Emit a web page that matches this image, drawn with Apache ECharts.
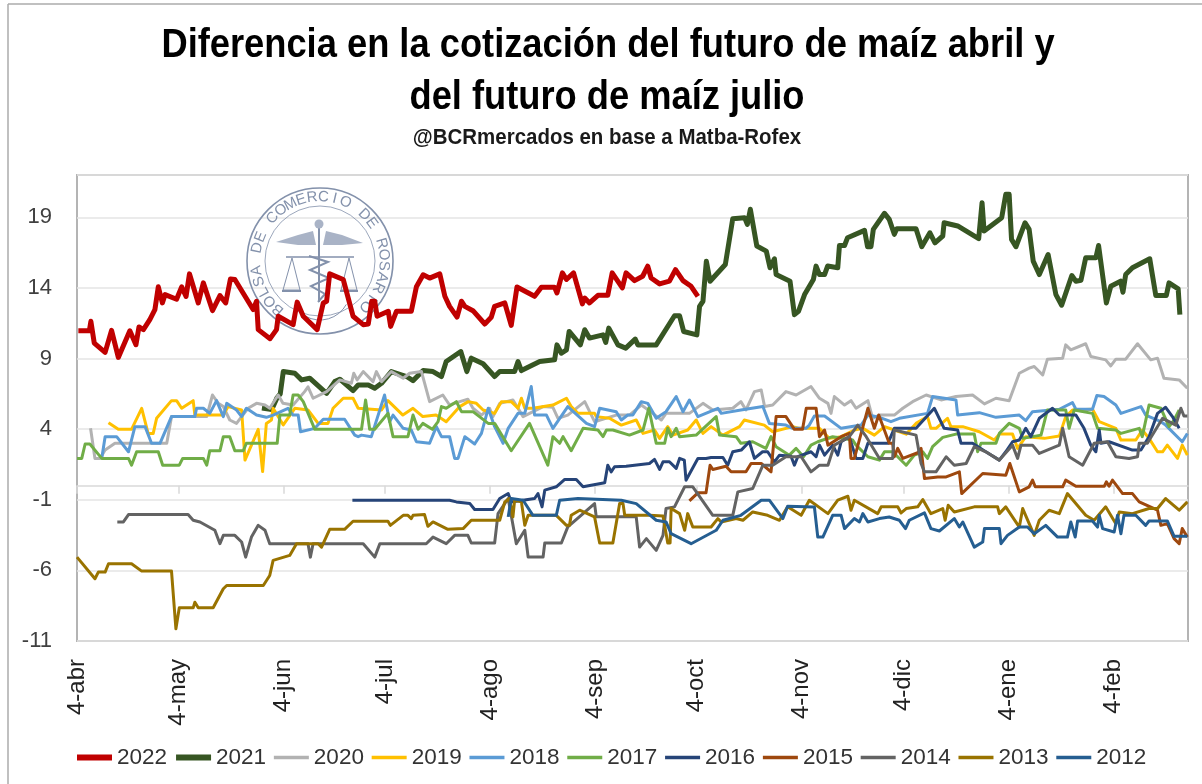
<!DOCTYPE html>
<html>
<head>
<meta charset="utf-8">
<title>Diferencia maíz abril - julio</title>
<script src="https://cdn.jsdelivr.net/npm/echarts@6/dist/echarts.min.js"></script>
<style>
  html, body { margin: 0; padding: 0; background: #fff; }
  #chart { width: 1202px; height: 784px; }
</style>
</head>
<body>
<div id="chart"></div>
<script>
// eje x: dias desde el 4 de abril
const tickDays = [0, 30, 61, 91, 122, 153, 183, 214, 244, 275, 306]
const tickLabels = ['4-abr', '4-may', '4-jun', '4-jul', '4-ago', '4-sep', '4-oct', '4-nov', '4-dic', '4-ene', '4-feb']
const years = ['2022', '2021', '2020', '2019', '2018', '2017', '2016', '2015', '2014', '2013', '2012']
const colors = ['#C00000', '#375623', '#B2B2B2', '#FFC000', '#5B9BD5', '#70AD47', '#264478', '#9E480E', '#636363', '#997300', '#255E91']

// valores: [dia, diferencia]
const y2022 = [[0.4,10.97],[3.65,10.97],[4.1,11.64],[5.1,10.1],[8.3,9.44],[10.2,11],[12.2,9.08],[15.6,10.97],[17.4,9.98],[18.3,11.24],[19.6,11.05],[21.5,11.76],[23,12.47],[24,14.08],[25.2,12.94],[26,13.53],[29.4,13.2],[30.9,14.08],[32.2,13.4],[33.2,15],[35.8,12.94],[37.3,14.36],[40,12.4],[42.2,13.46],[43.9,12.94],[45.3,14.64],[46.6,14.6],[52,12.47],[53,13.06],[53.5,11.05],[57,10.41],[58.9,11.05],[59.4,12],[63.8,11.4],[65,13],[66.8,12],[70.9,11.05],[72.7,12.94],[73.7,13.06],[74.6,15],[78.6,14.6],[81.5,12],[84.5,11.4],[86,11.45],[87,13.06],[87.9,13.06],[88.6,12],[91.9,12.35],[92.6,11.28],[94.3,12.35],[98.7,12.35],[100.2,14.08],[102.2,14.93],[104.1,14.7],[107.1,15],[108.6,13.41],[110,12.7],[112.2,11.94],[113.5,13.06],[114.5,12.7],[116.9,12.39],[120.4,11.45],[122.3,11.92],[123.3,12.7],[126.3,12.94],[128.2,11.35],[129.9,14.07],[135.1,13.41],[137.1,14.05],[141,14.05],[141.7,13.65],[143.3,15.07],[144.5,14.6],[146.6,15.07],[149.2,12.87],[149.9,13.29],[151.3,12.94],[153.8,13.48],[156.7,13.48],[158,15.07],[161,14],[162.1,15.07],[164.6,14.52],[167,14.83],[168.5,15.54],[169.5,14.71],[172,14.29],[174.9,14.48],[176.7,15.3],[178.9,14.52],[181.3,14.12],[183.3,13.41]]
const y2021 = [[54.6,5.5],[57.5,5.4],[59,6.2],[60,6.5],[60.9,8.08],[64.3,7.96],[66.3,7.49],[68.7,7.61],[73.7,6.54],[76.1,7.37],[77.6,7.54],[81.5,6.73],[83,7.13],[86,7.13],[87.9,6.9],[89.9,7.25],[92.8,8.08],[97.3,7.73],[99.2,7.44],[102.2,8.15],[105.1,8.08],[107.6,7.73],[109,8.79],[113.3,9.5],[115.1,8.08],[116.4,9.03],[119.9,8.63],[123.3,7.73],[124.8,8.08],[129.2,8.08],[130.2,8.79],[131.2,8.15],[136.6,8.79],[141,8.91],[141.7,9.97],[143,9.38],[144.5,9.62],[145.3,10.92],[148.6,9.97],[149.9,11.04],[151.3,10.45],[155.3,10.68],[156.1,10.14],[157,11.16],[159.7,9.97],[162,9.74],[164.8,10.38],[165.6,9.97],[171,9.97],[176.4,12.03],[177.9,12.03],[179.1,10.92],[183,10.68],[183.8,12.7],[184.8,13.06],[185.8,15.9],[186.9,14.48],[191.4,15.66],[193.6,18.91],[197.1,18.98],[197.9,18.5],[198.8,19.57],[200.7,16.97],[203.5,16.61],[204.6,15.43],[205.9,16.07],[206.4,14.95],[210.5,14.48],[211.8,12.11],[213,12.35],[214.8,13.53],[217.4,14.6],[218.2,15.55],[219.2,14.95],[220.7,14.95],[221.6,15.55],[224.6,15.43],[225.1,17.01],[226.6,17.01],[227.5,17.56],[232.5,18.08],[233.4,16.92],[234.4,16.92],[235.1,18.15],[238.4,19.29],[239.8,18.86],[241.3,17.8],[242,18.2],[247.7,18.2],[249.4,16.92],[251.8,17.91],[253.3,17.2],[255.6,17.68],[256,18.62],[260,18.39],[266.2,17.49],[267.2,20.04],[267.8,18.03],[273,18.98],[274.2,20.63],[275.2,20.63],[275.9,17.44],[277.2,16.92],[279.9,18.62],[281.1,18.15],[282.3,15.9],[284.1,14.95],[286.7,16.37],[289,13.53],[290.7,12.78],[293.7,14.88],[294.9,14.48],[296.4,14.55],[297.8,16.14],[300.8,16.14],[301.6,17.01],[303.9,12.94],[305.2,14.12],[308.1,14.48],[308.8,13.7],[309.6,14.95],[311.6,15.43],[316.7,16.07],[318.5,13.46],[321.6,13.46],[322.4,14.36],[325.1,13.94],[325.6,12.11]]
const y2020 = [[4,4.06],[5.3,1.93],[6.8,1.93],[8.3,2.52],[11.2,3],[26.5,3],[27.9,4.89],[38.3,4.89],[40,6.42],[41.7,5.83],[43.2,5.6],[45.1,4.65],[47.1,4.41],[48.6,4.89],[50.5,5.48],[53,5.83],[55.5,5.71],[56.9,5.48],[59.4,6.42],[60.8,5.83],[63.8,5.71],[67.2,6.66],[68.2,7],[69.7,6.19],[73.7,6.66],[77.6,7.49],[81,7.25],[81.7,7.96],[82.7,7.49],[84.5,8.08],[87.4,7.37],[88.4,8.08],[89.9,7.37],[92.8,8.08],[96.3,7.61],[98.2,7.96],[101.7,8.08],[104.1,5.95],[108,6.42],[110,5.71],[113,5.95],[115.4,6.12],[116.9,5.48],[119.4,5],[121.8,5.48],[122.8,4.89],[124.8,5.83],[128.7,6.07],[131.7,4.89],[137.6,5.6],[140.5,5.55],[142,4.77],[144.9,5],[149.9,5.95],[152.8,4.53],[159.2,5],[163.1,5],[166.6,5.71],[170,5.12],[172.5,4.65],[173.9,5.12],[180.8,5.12],[184.8,5.83],[187.7,5.36],[193.6,5.48],[196,5.95],[197.5,5.36],[200,6.66],[202,6.78],[203,5.6],[205.4,5.71],[209.3,6.66],[212.3,6.42],[216.7,7.02],[219.2,6.19],[221.7,5.83],[222.6,5.12],[223.6,6.31],[226.6,5.71],[228.5,6.02],[230,5.48],[233.5,6.02],[234.9,4.77],[236.9,5],[241.3,5],[243.8,5.48],[246.7,5.95],[250.7,6.42],[255.1,6.07],[259.5,6.31],[264.4,6.42],[267.9,5.79],[271.3,6.19],[275.2,6.02],[278.2,7.96],[281.1,8.32],[282.6,8.44],[285.1,7.84],[286.5,8.96],[291,9.03],[291.9,9.97],[293.4,9.62],[297.8,10.05],[299.3,9.15],[303.7,8.91],[305.2,8.48],[306.7,8.96],[309.6,8.96],[313.1,10.05],[317,8.91],[319,9.03],[320.9,7.61],[325.4,7.49],[327.8,6.9]]
const y2019 = [[9.3,4.46],[12.2,3.99],[16.1,3.99],[19.1,5.48],[21,3.7],[22.5,3.7],[23.5,4.77],[27.9,6.02],[29.4,6.02],[30.9,5.48],[34.3,6.02],[34.8,5],[43.2,5],[44.6,5.6],[48.6,5.36],[49.6,1.81],[53.5,3.99],[54.8,1],[55.9,4.41],[57.4,4.65],[57.9,5.48],[60.9,4.3],[64.3,5.48],[68.2,5.36],[71.2,4.41],[74.1,4.41],[75.6,5.48],[78.6,6.19],[81.5,6.19],[83,5.48],[89.9,5.36],[91.8,6.02],[96.2,5],[99.2,5.48],[102.1,4.89],[106,5],[109,4.53],[113,5.6],[115.5,5.95],[117.9,5.83],[119.9,5.36],[123.3,5.12],[125.3,5.95],[128.2,5.95],[130.2,5.48],[131.2,6.19],[132.2,5.48],[134.6,5.48],[140.5,5.71],[144.5,6.19],[145.9,5.6],[147.9,5.12],[152.8,5.12],[153.3,4.89],[157.2,4.77],[160.7,4.29],[165.1,4.65],[167.1,3.7],[170.5,3.94],[172,3.35],[174.4,4.18],[175.9,3.58],[180.3,3.94],[182.8,4.65],[184.8,3.7],[187.2,4.18],[190.7,3.58],[195.6,4.18],[197,4.65],[202.9,4.29],[205.4,3.82],[211.3,4.18],[213.3,4.06],[219.2,4.06],[222.1,3.35],[225.6,3.47],[229.5,3.94],[232,4.06],[235.4,3.58],[238.4,4.18],[241.3,3.94],[244.8,3.65],[247.7,4.41],[251.1,4.89],[252.1,4.06],[253.6,4.06],[257,4.77],[258,4.18],[261.5,4.18],[266.4,3.82],[270.8,3.23],[272.3,3.65],[276.2,3.65],[277.7,2.64],[280.1,3.47],[285.6,3.35],[290,3.51],[291.9,4.89],[293.9,5.36],[299.8,5.41],[301.8,4.53],[306.7,4.06],[308.2,3.23],[312.6,3.23],[314.5,3.94],[316.5,3.35],[319,2.4],[320.5,2.4],[321.9,2.87],[324.9,1.93],[326.3,2.87],[327.8,2.16]]
const y2018 = [[7.3,1.93],[8.3,3.47],[11.7,3.47],[15.2,2.4],[17.1,4.18],[20.1,4.18],[22,3],[24.5,3],[27.9,4.89],[34.8,4.89],[35.3,5.48],[37.3,5.48],[39.2,5.12],[41.2,6.02],[43.2,4.89],[44.2,5.83],[47.1,5.36],[48.6,4.89],[50,5.48],[53,5],[55.9,4.84],[57.9,5],[62.3,5.48],[63.8,5],[65.3,5],[66,3.82],[70.2,4.06],[72.7,4.7],[79,4.7],[82,3.58],[83,3.47],[84,3.58],[86.9,3.47],[90.8,6.42],[92.3,4.53],[93.3,5],[96.3,4.06],[98.7,3.94],[100.2,3.11],[104.1,3],[106.1,4.18],[107.6,3.47],[110,3.47],[111.5,1.93],[112.5,1.93],[114.5,3.47],[117.4,2.95],[119.4,3.7],[121.4,5.48],[123.3,4.18],[125.8,3],[127.3,4.06],[130.2,5.12],[132.2,5.12],[134.1,7.02],[135.1,5],[138.6,5],[140.5,4.06],[144.9,5.6],[150.4,4.41],[152.8,4.18],[154.3,5.48],[159.2,5.24],[160.7,4.65],[162.6,5],[164.1,5],[166.6,5.95],[168.5,5.83],[171,4.77],[173.9,5.24],[176.9,6.31],[178.9,5.24],[180.8,6.07],[183.3,4.89],[189.2,5.48],[190.2,5.12],[196,5.36],[202.5,5.6],[204.4,4.41],[209.3,4.29],[211.3,4.06],[215.2,4.06],[216.2,4.29],[217.7,4.93],[220.7,4.93],[225.6,4.06],[231.5,4.29],[233.5,5],[236.9,4.84],[240.3,4.53],[242.8,4.77],[251.1,5.12],[252.6,6.31],[259.5,6.07],[260,5],[266.4,5.17],[271.3,4.84],[278.2,5],[280.1,4.6],[282.1,5.24],[290,5.41],[293.9,5.88],[294.9,5.41],[299.8,5.41],[301.1,6.38],[303.2,6.31],[306.7,5.71],[308.2,5.12],[314.1,5.6],[315.5,5],[320,4.53],[321.4,4.29],[326.3,3.11],[327.8,3.7]]
const y2017 = [[0,1.93],[1.4,1.93],[2.4,2.95],[3.8,2.95],[7.3,1.93],[15.2,1.93],[16.1,1.45],[17.6,2.4],[24,2.4],[25.3,1.45],[30.2,1.45],[31.2,1.93],[37.3,1.93],[38.3,1.45],[39.2,2.47],[42.2,2.47],[43.2,3.47],[45.1,3.47],[46.6,2.47],[49.1,2.47],[50,3],[59.1,3],[59.9,5],[62.8,5],[63.8,6.42],[65.3,6.42],[66.8,5.95],[70.2,3.99],[84,3.99],[85.2,6.07],[86.4,3.99],[87.9,3.99],[91.8,5.12],[93.3,3.47],[97.7,3.47],[99.2,5],[100.7,3.99],[102.1,4.41],[104.9,3.99],[106.6,4.53],[107.6,5.6],[109,5.48],[112,5.95],[113.5,5.24],[116.9,5.24],[121.4,4.41],[123.3,4.41],[128.2,2.47],[133.6,4.41],[139,1.45],[140.5,3.47],[142.5,3],[143.5,3.47],[145.9,2.47],[149.4,4.06],[153.8,3.94],[155.3,3.47],[156.3,3.94],[158.2,3.94],[163.1,3.58],[167.1,3.94],[168.8,5.48],[171,3],[173.5,3],[174.4,4.06],[175.4,3.47],[176.9,4.06],[177.9,3.47],[182.8,3.58],[188.7,4.89],[189.7,3.58],[194.6,3.47],[196,3],[199.5,3.11],[203.4,2.64],[204.9,3.47],[206.4,2.76],[210.3,2.16],[212.3,2.64],[214.5,2.05],[216.7,2.87],[218.7,3.11],[223.1,3.47],[229,3.23],[230,2.87],[233.5,2.05],[236.9,1.81],[238.4,2.4],[240.8,2.4],[244.8,1.45],[247.2,2.16],[249.7,2.4],[251.1,1.93],[252.6,2.76],[255.6,3.42],[259.5,3.65],[264.9,3.65],[265.9,2.4],[266.9,3],[271.3,3],[272.3,3.7],[275.2,4.41],[278.2,4.06],[279.2,3.35],[284.6,3.58],[286.5,5.36],[291.9,5.36],[292.9,4.06],[294.4,5.36],[299.8,5.12],[301.3,4.06],[306.7,3.94],[308.2,3.7],[313.6,4.06],[314.5,3.47],[316.5,5.71],[320,5.48],[322.4,4.18],[323.9,4.65],[325.4,5.36]]
const y2016 = [[81.3,-1.03],[110,-1.03],[112,-1.15],[116,-1.27],[117.4,-1.69],[122.8,-1.69],[124.8,-0.91],[127.3,-0.56],[128.2,-1.15],[135.1,-0.91],[136.1,-0.56],[137.3,-1.5],[138.1,-0.32],[141.5,-0.08],[144,0.44],[147.4,0.44],[149.4,-0.08],[155.8,0.2],[156.7,1.45],[157.7,0.98],[158.7,1.34],[162.1,1.38],[169,1.57],[170.5,1.86],[172,1.15],[173,1.69],[174.9,1.69],[176.9,1.22],[177.9,1.93],[179.3,1.81],[179.8,0.39],[183.3,1.93],[185.7,1.93],[187.2,2],[190.7,2],[192.1,1.45],[193.6,2.4],[196.1,2.52],[198.5,3.11],[200,1.93],[202.4,2.4],[203.9,2.4],[205.9,1.69],[207.4,2.16],[210.8,2.09],[211.8,1.45],[212.8,2.05],[216.7,2.4],[218.2,2.05],[219.2,2.87],[220.7,2.16],[223.1,2.87],[224.6,2.16],[225.6,3.11],[228,3.47],[230,1.93],[232,1.93],[233.5,3],[239.4,3],[241.3,4.06],[247.7,4.06],[253.1,5.48],[256,4.06],[260,3.94],[261,3],[264.4,3],[268.3,2.4],[272.3,1.81],[274.2,2.4],[276.2,3.11],[278.2,3.23],[280.1,4.06],[281.6,3.47],[284.1,4.77],[288,5.48],[290,5],[294.9,5],[297.3,4.06],[299.3,2.87],[300.8,2.4],[301.8,3.94],[302.3,3],[304.7,3.11],[311.6,2.52],[314.1,2.52],[316.5,3.47],[319,5.12],[321.4,5.55],[323.4,4.89],[325.4,4.06]]
const y2015 = [[180.8,-1.08],[183.3,-0.51],[185.7,-0.51],[186.9,1.45],[187.7,1.15],[191.6,1.38],[193.1,0.98],[197.5,0.98],[199,1.57],[202,1.57],[204.9,0.98],[206.4,4.89],[209.3,4.89],[211.8,3.99],[214.2,3.99],[215.3,5.48],[218.2,5.48],[219.2,3.47],[220.7,3.94],[221.7,2.87],[225.6,3.47],[228,3.7],[228.5,1.93],[229.5,1.93],[233.5,5.48],[235.4,4.06],[236.7,5],[239.8,3],[240.8,3],[241.3,2.05],[242.3,2.64],[243.8,1.93],[248.2,2.33],[249.2,2.64],[250.2,0.51],[254.1,0.62],[256.6,0.62],[260.5,0.98],[261.2,-0.56],[267.4,0.86],[274.2,0.74],[275.4,1.57],[278.2,-0.44],[281.1,-0.08],[282.1,0.39],[282.9,-0.08],[291,-0.08],[291.9,0.39],[294.9,-0.04],[303.3,-0.04],[303.9,0.27],[304.7,-0.04],[305.7,0.39],[308.7,-0.56],[311.6,-0.56],[313.6,-1.15],[319,-1.74],[320,-2.81],[321.9,-2.69],[323.9,-3.75],[325.4,-4.11],[326.3,-3.04],[327.8,-3.63]]
const y2014 = [[11.9,-2.57],[13.7,-2.57],[15.2,-2.05],[32.8,-2.05],[34.3,-2.45],[36.3,-2.57],[40.7,-3.16],[42.2,-4.11],[43.2,-3.52],[46.6,-3.52],[48.6,-3.99],[49.8,-5.06],[51.5,-3.64],[53.5,-2.81],[55.5,-3.16],[56.9,-4.11],[68.2,-4.11],[68.9,-5.06],[69.7,-4.11],[84.5,-4.11],[87.9,-5.06],[89.4,-4.11],[103.1,-4.11],[105.1,-3.64],[109,-4.11],[111.5,-3.52],[115.4,-3.52],[116.4,-4.06],[123.3,-4.06],[124.3,-1.98],[127.3,-0.91],[129.7,-4.11],[132.2,-3.16],[133.2,-5.06],[137.6,-5.06],[138.1,-4.06],[143,-4.06],[144.9,-2.92],[152.8,-1.27],[153.3,-2.21],[165.1,-2.21],[166.1,-4.35],[168.1,-3.75],[171,-4.58],[173,-3.52],[173.9,-1.62],[176.4,-1.5],[179.4,-0.08],[181.8,-0.08],[187.7,-2.1],[193.6,-2.1],[195.1,-0.44],[199.5,-0.2],[202.5,1.45],[205.4,1.45],[209.3,2.05],[213.8,2.05],[216.7,0.98],[219.2,1.45],[221.7,1.45],[223.6,2.87],[228,3.47],[230.5,4.29],[233,3.47],[236.9,1.93],[240.8,1.93],[241.3,3.94],[247.7,3.58],[249.2,1.57],[250.2,0.98],[253.6,0.98],[256.6,2.05],[259,1.45],[262.5,1.57],[264.9,2.76],[268.3,2.4],[272.3,1.81],[276.2,2.87],[277.7,1.93],[278.7,2.87],[282.1,2.87],[284.1,2.28],[290,2.87],[291,4.06],[292.9,2.05],[296.9,1.45],[300.3,3],[304.2,3.11],[306.7,2.05],[310.6,1.93],[313.1,2.05],[313.6,3],[316,3],[320.5,4.77],[324.4,4.29],[325.9,5.48],[326.8,4.93],[327.8,4.93]]
const y2013 = [[0,-5.06],[5.3,-6.59],[6.3,-6.12],[8.3,-6.12],[9.3,-5.53],[16.1,-5.53],[19.1,-6.05],[27.9,-6.05],[29.2,-10.14],[30.2,-8.65],[34.3,-8.65],[34.8,-8.25],[35.8,-8.65],[40.2,-8.65],[43.2,-7.3],[44.2,-7.07],[55,-7.07],[56.9,-6.36],[57.9,-5.29],[62.8,-4.94],[64.8,-4.11],[71.2,-4.11],[72.2,-4.35],[74.6,-3.09],[79,-3.09],[81.5,-2.52],[91.8,-2.52],[92.5,-2.81],[96.3,-2.1],[97.7,-2.1],[98.7,-2.33],[99.2,-2.1],[102.6,-2.05],[103.6,-2.88],[105.1,-2.57],[109.5,-3.09],[114,-3.04],[116.4,-2.45],[124.8,-2.45],[126.3,-1.15],[127.7,-0.91],[128.7,-2.21],[129.2,-1.03],[131.2,-1.15],[132.2,-2.81],[133.2,-2.1],[141.5,-2.1],[144.5,-2.81],[145.4,-2.81],[145.9,-2.1],[148.4,-1.74],[152.8,-2.21],[154.3,-4.06],[158.2,-4.06],[160.2,-1.27],[161.2,-1.27],[161.7,-2.1],[169,-2.1],[173,-2.14],[174.4,-4.06],[175.1,-4.06],[175.4,-1.62],[177.9,-1.98],[179.4,-3.16],[180.3,-1.98],[181.8,-2.93],[187.2,-2.93],[189.2,-2.33],[190.2,-2.57],[194.6,-2.33],[196.6,-2.45],[199.5,-1.86],[203.9,-2.1],[207.4,-2.45],[209.8,-1.5],[213.8,-2.1],[216.2,-1.03],[221.7,-1.98],[224.6,-1.03],[227.6,-0.75],[228.5,-1.74],[229.5,-1.03],[236.4,-1.98],[237.4,-1.5],[242.3,-1.5],[243.3,-1.93],[244.8,-1.62],[248.2,-1.5],[249.7,-0.98],[252.1,-1.98],[255.6,-1.62],[256.3,-2.45],[257.2,-1.39],[259,-1.86],[264.9,-1.5],[271.8,-1.5],[272.3,-1.98],[274.2,-1.5],[278.2,-2.93],[279.2,-1.62],[282.6,-3.52],[284.1,-2.45],[287,-1.74],[290,-1.98],[292.4,-0.56],[297.8,-2.1],[300.3,-2.45],[303.7,-1.5],[306.7,-2.69],[307.7,-1.86],[311.6,-1.98],[316.5,-1.62],[319,-1.62],[321.4,-0.91],[325.4,-1.74],[327.8,-1.15]]
const y2012 = [[127.3,-2.21],[128.2,-0.91],[131.7,-1.03],[134.6,-2.1],[141.5,-2.1],[142.5,-1.03],[147.9,-0.91],[148.4,-1.03],[160.7,-1.03],[165.1,-1.27],[171,-2.45],[173.9,-2.57],[175.4,-3.4],[181.3,-4.11],[188.7,-3.16],[190.7,-2.45],[196,-2.1],[202,-1.03],[204.4,-1.03],[208.4,-2.33],[209.8,-1.46],[217.7,-1.51],[218.7,-3.64],[220.2,-3.64],[223.1,-2.1],[225.6,-2.1],[226.6,-3.04],[229.5,-2.33],[231,-2.57],[232,-1.98],[233.5,-2.57],[236.9,-2.33],[239.8,-2.22],[242.8,-2.45],[244.6,-3.04],[245.7,-2.45],[250.2,-1.93],[252.1,-3.04],[254.6,-3.21],[259,-2.33],[260.5,-2.93],[261.5,-2.57],[264.9,-4.35],[267.4,-3.99],[267.9,-3.04],[272.3,-3.04],[272.8,-4.11],[274.7,-3.52],[278.2,-2.93],[280.6,-2.93],[282.6,-3.4],[286,-2.81],[289.5,-3.64],[292.4,-3.64],[293.4,-2.57],[294.7,-3.64],[295.4,-2.5],[299.8,-2.5],[301.3,-2.93],[301.8,-2.1],[302.8,-3.04],[306.2,-3.28],[307.2,-2.1],[308.2,-3.4],[309.1,-2.1],[312.6,-2.1],[315.5,-2.81],[316.5,-2.5],[321.9,-2.5],[323.9,-3.59],[327.8,-3.59]]

const seriesData = [y2022, y2021, y2020, y2019, y2018, y2017, y2016, y2015, y2014, y2013, y2012]

// sello de la Bolsa, marca de agua detras de las lineas
const sealColor = '#8391AB'
const sealX = 320
const sealY = 261
const sealText = 'BOLSA DE COMERCIO DE ROSARIO'
const sealParts = [
  { type: 'circle', shape: { cx: sealX, cy: sealY, r: 73 }, style: { fill: 'none', stroke: sealColor, lineWidth: 1.6 } },
  { type: 'circle', shape: { cx: sealX, cy: sealY, r: 55 }, style: { fill: 'none', stroke: sealColor, lineWidth: 0.8 } },
  // alas
  { type: 'polygon', shape: { points: [[276, 242], [298, 235], [313, 231], [316, 245], [298, 245]] }, style: { fill: '#A9B3C6' } },
  { type: 'polygon', shape: { points: [[363, 243], [342, 235], [326, 231], [323, 245], [342, 245]] }, style: { fill: '#A9B3C6' } },
  // baston y serpientes
  { type: 'line', shape: { x1: 319, y1: 222, x2: 319, y2: 302 }, style: { stroke: sealColor, lineWidth: 2 } },
  { type: 'circle', shape: { cx: 319, cy: 224, r: 4.5 }, style: { fill: '#A9B3C6' } },
  { type: 'polyline', shape: { points: [[309, 256], [328, 262], [310, 270], [329, 278], [311, 286], [325, 294], [318, 302]] }, style: { fill: 'none', stroke: sealColor, lineWidth: 2 } },
  // balanza
  { type: 'line', shape: { x1: 286, y1: 257, x2: 354, y2: 257 }, style: { stroke: sealColor, lineWidth: 1.4 } },
  { type: 'polygon', shape: { points: [[292, 258], [283, 290], [300, 290]] }, style: { fill: 'none', stroke: sealColor, lineWidth: 1 } },
  { type: 'polygon', shape: { points: [[349, 258], [341, 290], [357, 290]] }, style: { fill: 'none', stroke: sealColor, lineWidth: 1 } },
  { type: 'line', shape: { x1: 282, y1: 291, x2: 301, y2: 291 }, style: { stroke: sealColor, lineWidth: 2 } },
  { type: 'line', shape: { x1: 340, y1: 291, x2: 358, y2: 291 }, style: { stroke: sealColor, lineWidth: 2 } },
  { type: 'arc', shape: { cx: sealX, cy: 290, r: 30, startAngle: 0.5, endAngle: 2.6 }, style: { stroke: sealColor, fill: 'none', lineWidth: 1 } }
]
// letras sobre el circulo
for (let i = 0; i < sealText.length; i++) {
  const deg = -139 + i * 274 / (sealText.length - 1)
  const rad = deg * Math.PI / 180
  sealParts.push({
    type: 'text',
    x: sealX + 64 * Math.sin(rad),
    y: sealY - 64 * Math.cos(rad),
    rotation: -rad,
    style: { text: sealText[i], fill: sealColor, font: '15px "Liberation Sans"', align: 'center', verticalAlign: 'middle' }
  })
}

const chart = echarts.init(document.getElementById('chart'), null, { renderer: 'canvas' })

chart.setOption({
  animation: false,
  backgroundColor: '#fff',
  textStyle: { fontFamily: '"Liberation Sans", sans-serif' },
  grid: { left: 77, right: 14, top: 175, bottom: 143, show: true, borderColor: '#B4B4B4', borderWidth: 2 },
  legend: {
    left: 69,
    top: 741,
    itemWidth: 35,
    itemHeight: 14,
    itemGap: 6,
    data: years.map((name, i) => ({
      name: name,
      lineStyle: { width: i < 2 ? 6 : 3.5 },
      itemStyle: { opacity: 0 }
    })),
    textStyle: { fontSize: 22.5, color: '#333' }
  },
  xAxis: [
    {
      // linea del eje en cero con sus marcas
      type: 'value',
      min: 0,
      max: 328,
      axisLine: { onZero: true, lineStyle: { color: '#D9D9D9', width: 1.5 } },
      axisTick: { show: true, length: 8, customValues: tickDays, lineStyle: { color: '#D9D9D9', width: 1.5 } },
      axisLabel: { show: false },
      splitLine: { show: false }
    },
    {
      // etiquetas abajo del grafico
      type: 'value',
      position: 'bottom',
      min: 0,
      max: 328,
      axisLine: { show: false, onZero: false },
      axisTick: { show: false },
      splitLine: { show: false },
      axisLabel: {
        rotate: 90,
        margin: 18,
        fontSize: 24,
        color: '#222',
        padding: [6, 0, 0, 0],
        customValues: tickDays,
        showMinLabel: true,
        showMaxLabel: true,
        formatter: (v) => tickLabels[tickDays.indexOf(v)]
      }
    }
  ],
  yAxis: {
    type: 'value',
    min: -11,
    max: 22,
    interval: 5,
    axisLine: { show: false },
    axisTick: { show: false },
    axisLabel: { fontSize: 22, color: '#404040', margin: 25, padding: [6, 0, 0, 0], showMaxLabel: false },
    splitLine: { lineStyle: { color: '#E4E4E4', width: 1.5 } }
  },
  series: years.map((name, i) => ({
    name: name,
    type: 'line',
    xAxisIndex: 0,
    symbol: 'none',
    smooth: false,
    data: seriesData[i],
    lineStyle: { color: colors[i], width: i < 2 ? 5 : 3, join: 'round' },
    itemStyle: { color: colors[i] }
  })),
  graphic: [
    { type: 'group', silent: true, z: 1, children: sealParts.map(p => Object.assign({ z: 1 }, p)) },
    // titulo, un poco angosto como en la imagen
    {
      type: 'text', silent: true, x: 608, y: 46, scaleX: 0.907,
      style: { text: 'Diferencia en la cotización del futuro de maíz abril y', fill: '#000', font: 'bold 40px "Liberation Sans"', align: 'center', verticalAlign: 'middle' }
    },
    {
      type: 'text', silent: true, x: 607, y: 98, scaleX: 0.907,
      style: { text: 'del futuro de maíz julio', fill: '#000', font: 'bold 40px "Liberation Sans"', align: 'center', verticalAlign: 'middle' }
    },
    {
      type: 'text', silent: true, x: 607, y: 138, scaleX: 0.93,
      style: { text: '@BCRmercados en base a Matba-Rofex', fill: '#1a1a1a', font: 'bold 22px "Liberation Sans"', align: 'center', verticalAlign: 'middle' }
    },
    // marco exterior de la imagen
    { type: 'line', silent: true, shape: { x1: 8, y1: 4, x2: 8, y2: 784 }, style: { stroke: '#ABABAB', lineWidth: 1.5 } },
    { type: 'line', silent: true, shape: { x1: 8, y1: 4, x2: 1202, y2: 4 }, style: { stroke: '#ABABAB', lineWidth: 1.5 } }
  ]
})

window.addEventListener('resize', () => chart.resize())
</script>
</body>
</html>
